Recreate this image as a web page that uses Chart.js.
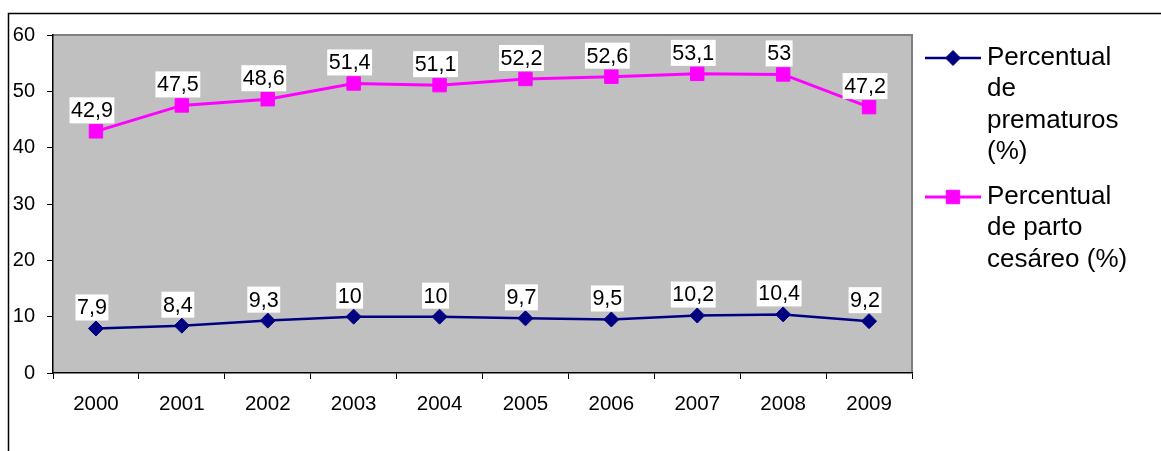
<!DOCTYPE html>
<html>
<head>
<meta charset="utf-8">
<script src="https://cdn.jsdelivr.net/npm/chart.js@4.4.0/dist/chart.umd.min.js"></script>
<style>
  html, body { margin: 0; padding: 0; background: #ffffff; overflow: hidden; }
  canvas { display: block; }
</style>
</head>
<body>
<canvas id="chart" width="1161" height="451"></canvas>
<script>
// Categories and series values
const years = ['2000', '2001', '2002', '2003', '2004', '2005', '2006', '2007', '2008', '2009'];
const prematuros = [7.9, 8.4, 9.3, 10, 10, 9.7, 9.5, 10.2, 10.4, 9.2];
const cesareo = [42.9, 47.5, 48.6, 51.4, 51.1, 52.2, 52.6, 53.1, 53, 47.2];
const seriesNames = ['Percentual de prematuros (%)', 'Percentual de parto cesáreo (%)'];
const yTicks = [0, 10, 20, 30, 40, 50, 60];

const FONT = "'Liberation Sans', Arial, Helvetica, sans-serif";
const fmt = v => String(v).replace('.', ',');

// Gray plot area, frame lines of the chart object
const plotBackground = {
  id: 'plotBackground',
  beforeDraw(chart) {
    const { ctx, chartArea: a } = chart;
    ctx.save();
    ctx.fillStyle = '#c0c0c0';
    ctx.fillRect(a.left, a.top, a.right - a.left, a.bottom - a.top);
    // top and right edges of the plot area
    ctx.strokeStyle = '#808080';
    ctx.lineWidth = 2;
    ctx.beginPath();
    ctx.moveTo(a.left, a.top);
    ctx.lineTo(a.right, a.top);
    ctx.lineTo(a.right, a.bottom);
    ctx.stroke();
    // outer chart frame
    ctx.strokeStyle = '#000000';
    ctx.lineWidth = 1.5;
    ctx.beginPath();
    ctx.moveTo(8.5, chart.height);
    ctx.lineTo(8.5, 13.5);
    ctx.lineTo(chart.width, 13.5);
    ctx.stroke();
    ctx.restore();
  }
};

// Value labels on white boxes above each point
const valueLabels = {
  id: 'valueLabels',
  afterDatasetsDraw(chart) {
    const { ctx } = chart;
    ctx.save();
    ctx.font = '21.5px ' + FONT;
    ctx.textAlign = 'center';
    ctx.textBaseline = 'middle';
    chart.data.datasets.forEach((ds, i) => {
      const meta = chart.getDatasetMeta(i);
      meta.data.forEach((pt, j) => {
        const txt = fmt(ds.data[j]);
        const w = ctx.measureText(txt).width + 3;
        const h = 26;
        const cx = pt.x - 4;
        const cy = pt.y - 21;
        ctx.fillStyle = '#ffffff';
        ctx.fillRect(cx - w / 2, cy - h / 2, w, h);
        ctx.fillStyle = '#000000';
        ctx.fillText(txt, cx, cy + 1);
      });
    });
    ctx.restore();
  }
};

// Legend to the right of the plot, with word-wrapped labels
const sideLegend = {
  id: 'sideLegend',
  afterDraw(chart) {
    const { ctx } = chart;
    const x0 = 925, x1 = 981, textX = 987, maxW = 150, lineH = 31.3;
    const tops = [58, 197];
    ctx.save();
    ctx.font = '26px ' + FONT;
    ctx.textAlign = 'left';
    ctx.textBaseline = 'middle';
    chart.data.datasets.forEach((ds, i) => {
      const y = tops[i];
      ctx.strokeStyle = ds.borderColor;
      ctx.lineWidth = ds.borderWidth;
      ctx.beginPath();
      ctx.moveTo(x0, y);
      ctx.lineTo(x1, y);
      ctx.stroke();
      ctx.fillStyle = ds.pointBackgroundColor;
      ctx.strokeStyle = ds.pointBorderColor;
      ctx.lineWidth = ds.pointBorderWidth;
      Chart.helpers.drawPoint(ctx, {
        pointStyle: ds.pointStyle,
        radius: ds.pointRadius,
        borderWidth: ds.pointBorderWidth
      }, (x0 + x1) / 2, y);
      // wrap words
      const words = ds.label.split(' ');
      const lines = [];
      let cur = '';
      words.forEach(wd => {
        const test = cur ? cur + ' ' + wd : wd;
        if (cur && ctx.measureText(test).width > maxW) {
          lines.push(cur);
          cur = wd;
        } else {
          cur = test;
        }
      });
      if (cur) lines.push(cur);
      ctx.fillStyle = '#000000';
      lines.forEach((ln, k) => ctx.fillText(ln, textX, y + k * lineH));
    });
    ctx.restore();
  }
};

new Chart(document.getElementById('chart'), {
  type: 'line',
  data: {
    labels: years,
    datasets: [
      {
        label: seriesNames[0],
        data: prematuros,
        borderColor: '#000080',
        backgroundColor: '#000080',
        borderWidth: 2.5,
        pointStyle: 'rectRot',
        pointRadius: 7.5,
        pointBackgroundColor: '#000080',
        pointBorderColor: '#000080',
        pointBorderWidth: 1,
        tension: 0
      },
      {
        label: seriesNames[1],
        data: cesareo,
        borderColor: '#ff00ff',
        backgroundColor: '#ff00ff',
        borderWidth: 3,
        pointStyle: 'rect',
        pointRadius: 9.5,
        pointBackgroundColor: '#ff00ff',
        pointBorderColor: '#ff00ff',
        pointBorderWidth: 1,
        tension: 0
      }
    ]
  },
  options: {
    responsive: false,
    animation: false,
    events: [],
    layout: { padding: { top: 35, right: 249, bottom: 0, left: 0 } },
    plugins: {
      legend: { display: false },
      tooltip: { enabled: false }
    },
    scales: {
      x: {
        offset: true,
        grid: { display: true, drawOnChartArea: false, drawTicks: true, tickLength: 6, offset: true, color: '#000000', lineWidth: 1 },
        border: { display: true, color: '#000000', width: 1.5 },
        ticks: { color: '#000000', font: { family: FONT, size: 20.5 }, padding: 13, maxRotation: 0, autoSkip: false },
        afterFit(scale) { scale.height = 78; }
      },
      y: {
        min: yTicks[0],
        max: yTicks[yTicks.length - 1],
        afterBuildTicks(scale) { scale.ticks = yTicks.map(v => ({ value: v })); },
        grid: { display: true, drawOnChartArea: false, drawTicks: true, tickLength: 6, color: '#000000', lineWidth: 1 },
        border: { display: true, color: '#000000', width: 1.5 },
        ticks: { color: '#000000', font: { family: FONT, size: 20 }, padding: 12 },
        afterFit(scale) { scale.width = 53; }
      }
    }
  },
  plugins: [plotBackground, valueLabels, sideLegend]
});
</script>
</body>
</html>
